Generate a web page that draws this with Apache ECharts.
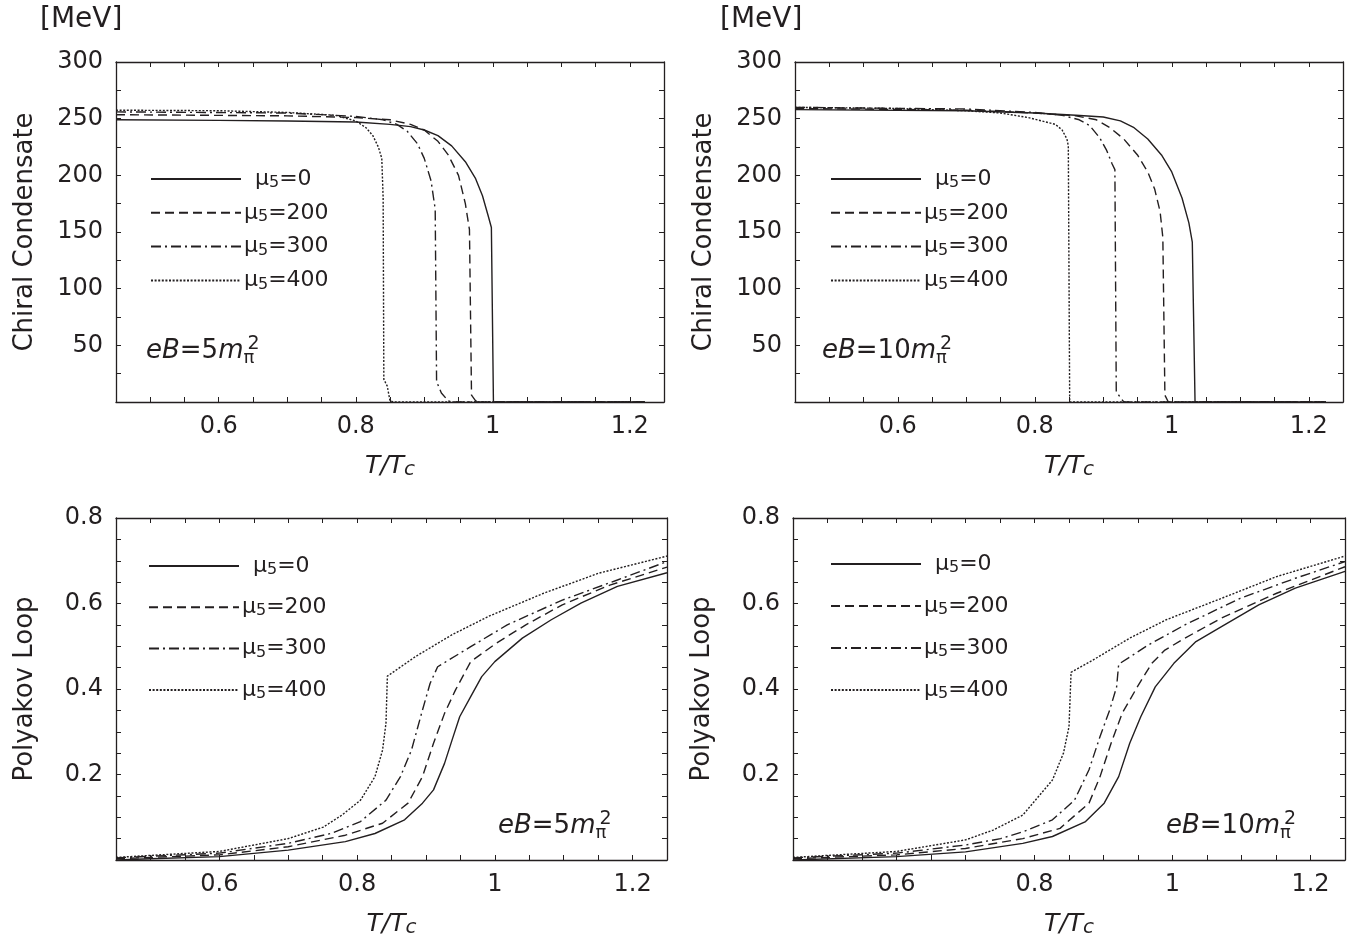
<!DOCTYPE html>
<html>
<head>
<meta charset="utf-8">
<script src="https://cdn.jsdelivr.net/npm/echarts/dist/echarts.min.js"></script>
<style>
html, body { margin: 0; padding: 0; background: #fff; }
#chart { width: 1363px; height: 943px; }
</style>
</head>
<body>
<div id="chart"></div>
<script>
// curve data: [T/Tc, value]
var muNames = ['μ5=0', 'μ5=200', 'μ5=300', 'μ5=400'];

// chiral condensate, eB = 5 m_pi^2  [MeV]
var cc5_mu0 = [[0.45,249],[0.6,248.5],[0.7,248],[0.8,247],[0.85,245],[0.88,243],[0.9,240],[0.92,235],[0.94,226],[0.96,212],[0.975,197],[0.985,182],[0.993,165],[0.998,154],[1.001,0],[1.222,0]];
var cc5_mu200 = [[0.45,253.5],[0.7,252.5],[0.8,251],[0.85,249],[0.88,245],[0.9,240],[0.92,230],[0.935,218],[0.95,200],[0.96,175],[0.966,152],[0.969,6],[0.975,1],[0.98,0],[1.222,0]];
var cc5_mu300 = [[0.45,256],[0.7,255],[0.8,252],[0.84,249],[0.86,245],[0.875,239],[0.89,228],[0.9,215],[0.91,195],[0.916,170],[0.918,18],[0.925,8],[0.935,1],[0.94,0],[1.222,0]];
var cc5_mu400 = [[0.45,257.5],[0.6,257],[0.7,255.5],[0.77,253],[0.8,248],[0.815,242],[0.825,235],[0.833,225],[0.838,215],[0.84,180],[0.841,20],[0.846,14],[0.85,1],[0.855,0],[1.222,0]];

// chiral condensate, eB = 10 m_pi^2  [MeV]
var cc10_mu0 = [[0.45,258],[0.7,257],[0.8,255],[0.86,253],[0.9,251.5],[0.925,248],[0.945,242],[0.965,232],[0.985,218],[1.0,203],[1.015,180],[1.025,158],[1.03,141],[1.034,0],[1.225,0]];
var cc10_mu200 = [[0.45,259],[0.7,257.5],[0.8,255],[0.86,252.5],[0.89,249],[0.91,242],[0.93,232],[0.95,218],[0.965,203],[0.975,188],[0.983,168],[0.987,145],[0.99,6],[0.995,0],[1.225,0]];
var cc10_mu300 = [[0.45,260],[0.7,258.5],[0.8,255.5],[0.84,253],[0.865,249],[0.88,244],[0.895,233],[0.905,222],[0.913,210],[0.917,205],[0.919,9],[0.925,4],[0.93,0],[1.225,0]];
var cc10_mu400 = [[0.45,260],[0.6,259],[0.7,257],[0.75,255],[0.79,251],[0.81,248],[0.83,245],[0.84,240],[0.847,232],[0.849,226],[0.851,0],[1.225,0]];

// Polyakov loop, eB = 5 m_pi^2
var pl5_mu0 = [[0.45,0],[0.5,0.003],[0.6,0.008],[0.7,0.023],[0.783,0.043],[0.826,0.062],[0.869,0.094],[0.895,0.133],[0.911,0.164],[0.927,0.226],[0.938,0.281],[0.949,0.335],[0.965,0.382],[0.981,0.429],[1.0,0.464],[1.04,0.519],[1.082,0.562],[1.125,0.601],[1.178,0.64],[1.25,0.672]];
var pl5_mu200 = [[0.45,0.003],[0.6,0.012],[0.7,0.031],[0.783,0.058],[0.837,0.086],[0.874,0.133],[0.895,0.195],[0.911,0.273],[0.927,0.343],[0.943,0.398],[0.965,0.464],[1.002,0.507],[1.045,0.55],[1.098,0.597],[1.167,0.643],[1.25,0.685]];
var pl5_mu300 = [[0.45,0.005],[0.6,0.016],[0.7,0.039],[0.762,0.062],[0.805,0.09],[0.842,0.14],[0.863,0.195],[0.879,0.257],[0.895,0.351],[0.906,0.413],[0.917,0.452],[0.965,0.499],[1.018,0.55],[1.098,0.608],[1.178,0.655],[1.25,0.698]];
var pl5_mu400 = [[0.45,0.006],[0.6,0.02],[0.7,0.05],[0.751,0.077],[0.778,0.105],[0.805,0.14],[0.826,0.195],[0.837,0.257],[0.842,0.32],[0.844,0.43],[0.885,0.476],[0.938,0.527],[0.991,0.57],[1.071,0.624],[1.151,0.671],[1.25,0.711]];

// Polyakov loop, eB = 10 m_pi^2
var pl10_mu0 = [[0.45,0],[0.6,0.008],[0.7,0.019],[0.783,0.039],[0.826,0.055],[0.874,0.09],[0.901,0.133],[0.922,0.195],[0.938,0.273],[0.954,0.335],[0.975,0.405],[1.002,0.46],[1.034,0.511],[1.071,0.546],[1.125,0.597],[1.178,0.636],[1.25,0.675]];
var pl10_mu200 = [[0.45,0.003],[0.6,0.012],[0.7,0.027],[0.783,0.05],[0.837,0.074],[0.879,0.133],[0.895,0.195],[0.911,0.273],[0.927,0.343],[0.949,0.405],[0.97,0.46],[0.989,0.491],[1.018,0.519],[1.071,0.566],[1.151,0.624],[1.25,0.686]];
var pl10_mu300 = [[0.45,0.005],[0.6,0.016],[0.7,0.035],[0.751,0.05],[0.783,0.066],[0.826,0.094],[0.858,0.14],[0.879,0.211],[0.895,0.289],[0.909,0.351],[0.919,0.405],[0.922,0.458],[0.965,0.503],[1.018,0.55],[1.098,0.612],[1.178,0.659],[1.25,0.698]];
var pl10_mu400 = [[0.45,0.006],[0.6,0.02],[0.7,0.047],[0.74,0.07],[0.783,0.105],[0.826,0.187],[0.842,0.25],[0.85,0.312],[0.853,0.439],[0.885,0.468],[0.938,0.519],[0.991,0.562],[1.071,0.612],[1.151,0.663],[1.25,0.711]];

var INK = '#231f20';
var FONT = 'DejaVu Sans';
var dashTypes = ['solid', [9, 5], [10, 4, 2, 4], [2, 1.6]];

var panels = [
    {grid: {left: 116, top: 62, width: 548, height: 340}, yMax: 300, yStep: 25, yLab: 50, yName: 'Chiral Condensate',
        curves: [cc5_mu0, cc5_mu200, cc5_mu300, cc5_mu400], legend: {left: 150, top: 168, gap: 10.8}},
    {grid: {left: 795, top: 62, width: 548, height: 340}, yMax: 300, yStep: 25, yLab: 50, yName: 'Chiral Condensate',
        curves: [cc10_mu0, cc10_mu200, cc10_mu300, cc10_mu400], legend: {left: 830, top: 168, gap: 10.8}},
    {grid: {left: 116, top: 518, width: 551, height: 342}, yMax: 0.8, yStep: 0.05, yLab: 0.2, yName: 'Polyakov Loop',
        curves: [pl5_mu0, pl5_mu200, pl5_mu300, pl5_mu400], legend: {left: 148, top: 555, gap: 18.3}},
    {grid: {left: 793, top: 518, width: 552, height: 342}, yMax: 0.8, yStep: 0.05, yLab: 0.2, yName: 'Polyakov Loop',
        curves: [pl10_mu0, pl10_mu200, pl10_mu300, pl10_mu400], legend: {left: 830, top: 553, gap: 19}}
];

//只显示主刻度的标签
function labelEvery(step, minShown) {
    return function (v) {
        var k = v / step;
        if (v > minShown && Math.abs(k - Math.round(k)) < 1e-6) {
            return String(+v.toFixed(2));
        }
        return '';
    };
}

var lineStyleAxis = {color: INK, width: 1.3};
var tickStyle = {show: true, inside: true, length: 5, lineStyle: {color: INK, width: 1}};

var grids = [], xAxes = [], yAxes = [], series = [], legends = [];
panels.forEach(function (p, g) {
    grids.push(p.grid);
    // bottom axis with labels
    xAxes.push({
        gridIndex: g, type: 'value', min: 0.45, max: 1.25, interval: 0.05, position: 'bottom',
        axisLine: {show: true, onZero: false, lineStyle: lineStyleAxis},
        axisTick: tickStyle,
        axisLabel: {formatter: labelEvery(0.2, 0.5), fontSize: 24, color: INK, fontFamily: FONT, margin: 13},
        splitLine: {show: false},
        name: '{t|T/T}{c|c}', nameLocation: 'middle', nameGap: 50,
        nameTextStyle: {
            rich: {
                t: {fontSize: 25, fontStyle: 'italic', fontFamily: FONT, color: INK, lineHeight: 28},
                c: {fontSize: 20, fontStyle: 'italic', fontFamily: FONT, color: INK, lineHeight: 22, verticalAlign: 'bottom'}
            }
        }
    });
    // top mirror axis
    xAxes.push({
        gridIndex: g, type: 'value', min: 0.45, max: 1.25, interval: 0.05, position: 'top',
        axisLine: {show: true, onZero: false, lineStyle: lineStyleAxis},
        axisTick: tickStyle, axisLabel: {show: false}, splitLine: {show: false}
    });
    yAxes.push({
        gridIndex: g, type: 'value', min: 0, max: p.yMax, interval: p.yStep, position: 'left',
        axisLine: {show: true, onZero: false, lineStyle: lineStyleAxis},
        axisTick: tickStyle,
        axisLabel: {formatter: labelEvery(p.yLab, 1e-9), fontSize: 24, color: INK, fontFamily: FONT, margin: 13},
        splitLine: {show: false},
        name: p.yName, nameLocation: 'middle', nameGap: 78,
        nameTextStyle: {fontSize: 26, color: INK, fontFamily: FONT}
    });
    yAxes.push({
        gridIndex: g, type: 'value', min: 0, max: p.yMax, interval: p.yStep, position: 'right',
        axisLine: {show: true, onZero: false, lineStyle: lineStyleAxis},
        axisTick: tickStyle, axisLabel: {show: false}, splitLine: {show: false}
    });

    p.curves.forEach(function (d, s) {
        series.push({
            type: 'line', name: muNames[s], data: d,
            xAxisIndex: 2 * g, yAxisIndex: 2 * g,
            symbol: 'none', showSymbol: false, silent: true,
            itemStyle: {color: INK},
            lineStyle: {color: INK, width: 1.4, type: dashTypes[s]}
        });
    });

    legends.push({
        data: muNames, orient: 'vertical', left: p.legend.left, top: p.legend.top,
        itemWidth: 90, itemHeight: 24, itemGap: p.legend.gap, selectedMode: false, padding: 0,
        itemStyle: {opacity: 0, borderWidth: 0},
        formatter: function (name) {
            var pad = name === 'μ5=0' ? '{w|}' : '';
            return pad + '{m|μ}{s|5}{m|' + name.slice(2) + '}';
        },
        textStyle: {
            padding: [0, 0, 0, -2],
            rich: {
                w: {width: 11, lineHeight: 24},
                m: {fontSize: 22, fontFamily: FONT, color: INK, lineHeight: 24},
                s: {fontSize: 16, fontFamily: FONT, color: INK, lineHeight: 10, verticalAlign: 'bottom'}
            }
        }
    });
});

var ebRich = {
    i: {fontSize: 26, fontStyle: 'italic', fontWeight: 'normal', fontFamily: FONT, color: INK, lineHeight: 32},
    n: {fontSize: 26, fontWeight: 'normal', fontFamily: FONT, color: INK, lineHeight: 32},
    p: {fontSize: 18, fontWeight: 'normal', fontFamily: FONT, color: INK, lineHeight: 12, verticalAlign: 'bottom', width: 4},
    q: {fontSize: 19, fontWeight: 'normal', fontFamily: FONT, color: INK, lineHeight: 14, verticalAlign: 'top'}
};
function ebTitle(txt, left, top) {
    return {text: '{i|eB}{n|=' + txt + '}{i|m}{p|π}{q|2}', left: left, top: top, padding: 0,
        textStyle: {fontWeight: 'normal', rich: ebRich}};
}

var chart = echarts.init(document.getElementById('chart'));
chart.setOption({
    backgroundColor: '#fff',
    animation: false,
    title: [
        {text: '[MeV]', left: 40, top: 6, padding: 0, textStyle: {fontSize: 28, fontWeight: 'normal', color: INK, fontFamily: FONT}},
        {text: '[MeV]', left: 720, top: 6, padding: 0, textStyle: {fontSize: 28, fontWeight: 'normal', color: INK, fontFamily: FONT}},
        ebTitle('5', 146, 335),
        ebTitle('10', 822, 335),
        ebTitle('5', 498, 810),
        ebTitle('10', 1166, 810)
    ],
    legend: legends,
    grid: grids,
    xAxis: xAxes,
    yAxis: yAxes,
    series: series
});
</script>
</body>
</html>
